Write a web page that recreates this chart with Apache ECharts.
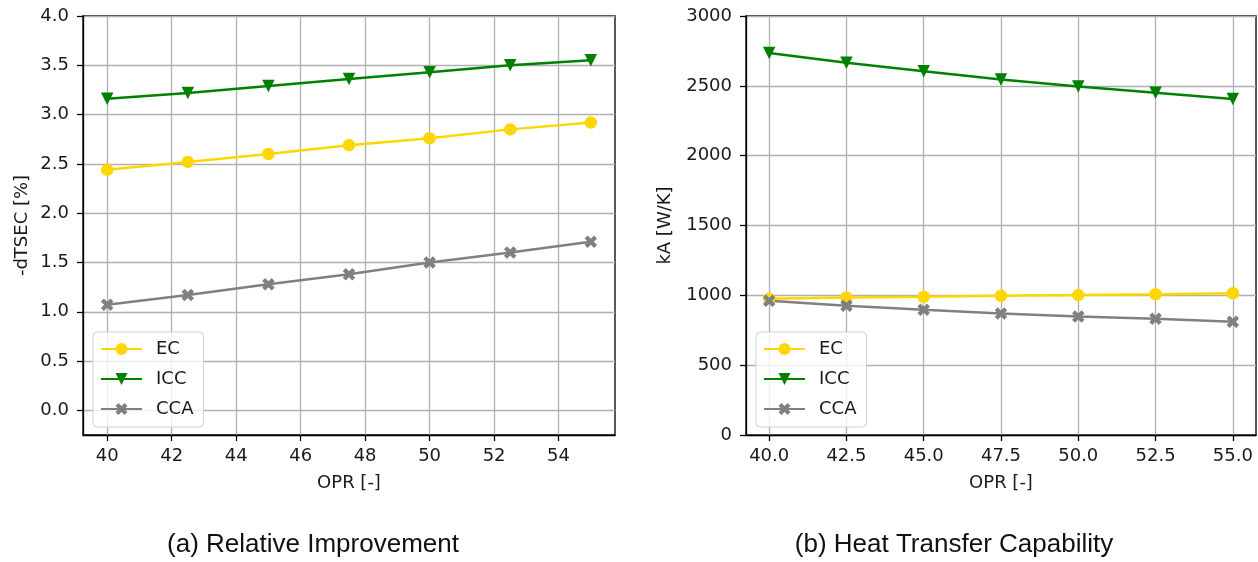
<!DOCTYPE html>
<html>
<head>
<meta charset="utf-8">
<script src="https://cdn.jsdelivr.net/npm/echarts@6/dist/echarts.min.js"></script>
<style>
html,body{margin:0;padding:0;background:#fff;}
#chart{width:1258px;height:562px;}
</style>
</head>
<body>
<div id="chart"></div>
<script>
// ---- data ----
const opr = [40, 42.5, 45, 47.5, 50, 52.5, 55];
const seriesNames = ['EC', 'ICC', 'CCA'];
// (a) Relative Improvement, -dTSEC [%]
const dtsecEC  = [2.44, 2.52, 2.60, 2.69, 2.76, 2.85, 2.92];
const dtsecICC = [3.16, 3.22, 3.29, 3.36, 3.43, 3.50, 3.55];
const dtsecCCA = [1.07, 1.17, 1.28, 1.38, 1.50, 1.60, 1.71];
// (b) Heat Transfer Capability, kA [W/K]
const kaEC  = [975, 985, 990, 997, 1002, 1008, 1015];
const kaICC = [2735, 2665, 2605, 2545, 2495, 2450, 2405];
const kaCCA = [961, 925, 896, 870, 849, 832, 810];
// tick labels
const xTicksA = [40, 42, 44, 46, 48, 50, 52, 54];
const yTicksA = [0, 0.5, 1.0, 1.5, 2.0, 2.5, 3.0, 3.5, 4.0];
const xTicksB = [40, 42.5, 45, 47.5, 50, 52.5, 55];
const captions = ['(a) Relative Improvement', '(b) Heat Transfer Capability'];

const colors = {EC: '#FFD700', ICC: '#008000', CCA: '#808080'};
const symbols = {
  EC: 'circle',
  ICC: 'path://M0,0L10,0L5,10Z',
  CCA: 'path://M0,2.4L2.4,0L5,2.6L7.6,0L10,2.4L7.4,5L10,7.6L7.6,10L5,7.4L2.4,10L0,7.6L2.6,5Z'
};
const FONT = 'DejaVu Sans';
const TXT = '#1a1a1a';
const FS = 18;

function pair(xs, ys) { return xs.map((x, i) => [x, ys[i]]); }

function xAxisCfg(gridIndex, ticks, fmt) {
  return {
    type: 'value', gridIndex, min: 39.25, max: 55.75,
    name: 'OPR [-]', nameLocation: 'middle', nameGap: 39,
    nameTextStyle: {fontFamily: FONT, fontSize: FS, color: TXT},
    axisLine: {show: true, onZero: false, lineStyle: {color: '#000', width: 1.3}},
    axisTick: {show: true, length: 6, lineStyle: {color: '#000', width: 1.3}, customValues: ticks},
    axisLabel: {customValues: ticks, formatter: fmt, fontFamily: FONT, fontSize: FS, color: TXT, margin: 12},
    splitLine: {show: true, lineStyle: {color: '#b0b0b0', width: 1.3}}
  };
}

function yAxisCfg(gridIndex, name, gap, extra, fmt) {
  return Object.assign({
    type: 'value', gridIndex,
    name, nameLocation: 'middle', nameGap: gap, nameRotate: 90,
    nameTextStyle: {fontFamily: FONT, fontSize: FS, color: TXT},
    axisLine: {show: true, onZero: false, lineStyle: {color: '#000', width: 1.3}},
    axisTick: {show: true, length: 6, lineStyle: {color: '#000', width: 1.3}},
    axisLabel: {formatter: fmt, fontFamily: FONT, fontSize: FS, color: TXT, margin: 14},
    splitLine: {show: true, lineStyle: {color: '#b0b0b0', width: 1.3}}
  }, extra);
}

function lineSeries(name, idx, data) {
  return {
    name, type: 'line', xAxisIndex: idx, yAxisIndex: idx,
    data, symbol: symbols[name], symbolSize: 12.5, showSymbol: true,
    lineStyle: {color: colors[name], width: 2.5},
    itemStyle: {color: colors[name]},
    emphasis: {disabled: true}, animation: false
  };
}

function legendCfg(left) {
  return {
    data: seriesNames, orient: 'vertical', left, top: 332,
    itemWidth: 41, itemHeight: 15, itemGap: 12,
    padding: [8, 10, 9, 7],
    backgroundColor: 'rgba(255,255,255,0.8)',
    borderColor: '#d0d0d0', borderWidth: 1, borderRadius: 4,
    textStyle: {fontFamily: FONT, fontSize: FS, color: TXT, padding: [0, 0, 0, 9]},
    selectedMode: false
  };
}

const yA = yAxisCfg(0, '-dTSEC [%]', 52, {min: -0.25, max: 4.0}, v => v.toFixed(1));
yA.axisTick.customValues = yTicksA;
yA.axisLabel.customValues = yTicksA;
const yB = yAxisCfg(1, 'kA [W/K]', 72, {min: 0, max: 3000, interval: 500}, v => String(v));

const option = {
  animation: false,
  backgroundColor: '#fff',
  grid: [
    {left: 83, top: 16, width: 532, height: 419, show: true, borderColor: '#000', borderWidth: 1.3, backgroundColor: 'transparent'},
    {left: 746, top: 16, width: 510, height: 419, show: true, borderColor: '#000', borderWidth: 1.3, backgroundColor: 'transparent'}
  ],
  xAxis: [
    xAxisCfg(0, xTicksA, v => String(v)),
    xAxisCfg(1, xTicksB, v => v.toFixed(1))
  ],
  yAxis: [yA, yB],
  legend: [legendCfg(93), legendCfg(756)],
  series: [
    lineSeries('EC', 0, pair(opr, dtsecEC)),
    lineSeries('ICC', 0, pair(opr, dtsecICC)),
    lineSeries('CCA', 0, pair(opr, dtsecCCA)),
    lineSeries('EC', 1, pair(opr, kaEC)),
    lineSeries('ICC', 1, pair(opr, kaICC)),
    lineSeries('CCA', 1, pair(opr, kaCCA))
  ],
  graphic: [
    {type: 'text', x: 313, y: 545, style: {text: captions[0], fontFamily: 'Liberation Sans', fontSize: 26, fill: '#111', align: 'center', verticalAlign: 'middle'}},
    {type: 'text', x: 954, y: 545, style: {text: captions[1], fontFamily: 'Liberation Sans', fontSize: 26, fill: '#111', align: 'center', verticalAlign: 'middle'}}
  ]
};

const chart = echarts.init(document.getElementById('chart'), null, {renderer: 'canvas'});
chart.setOption(option);
</script>
</body>
</html>
